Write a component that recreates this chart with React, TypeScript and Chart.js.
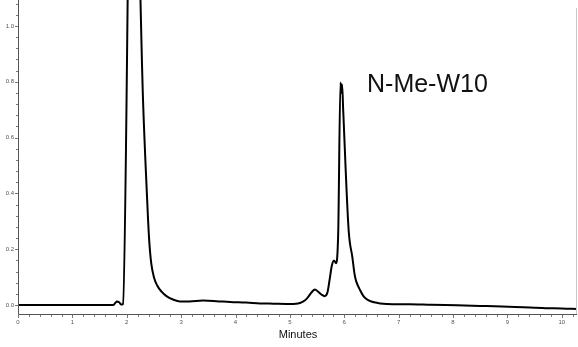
import { useEffect, useRef } from "react";
import { Chart, registerables } from "chart.js";

Chart.register(...registerables);

// Retention time (min) and detector response (AU) of the trace
const minutes = [
  0, 1.75, 1.79, 1.82, 1.86, 1.9, 1.93, 2.1, 2.3, 2.37, 2.41, 2.45, 2.5, 2.56, 2.64, 2.73, 2.85, 2.98,
  3.15, 3.4, 3.65, 3.9, 4.2, 4.45, 4.7, 4.94, 5.15, 5.24, 5.32, 5.4, 5.46, 5.52, 5.58, 5.64,
  5.69, 5.73, 5.77, 5.81, 5.85, 5.87, 5.89, 5.93, 5.95, 5.96, 5.98, 6.08, 6.15, 6.19, 6.22,
  6.29, 6.36, 6.44, 6.55, 6.66, 6.78, 7.2, 7.6, 8.07, 8.5, 8.9, 9.29, 9.7, 10.0, 10.28,
];
const absorbance = [
  0.0, 0.0, 0.008, 0.013, 0.01, 0.002, 0.004, 2.12, 0.73, 0.4, 0.24, 0.15, 0.1, 0.07, 0.048, 0.032, 0.02, 0.013,
  0.013, 0.016, 0.014, 0.011, 0.009, 0.006, 0.005, 0.004, 0.006, 0.012, 0.025, 0.046, 0.056, 0.048, 0.038, 0.032,
  0.045, 0.09, 0.14, 0.16, 0.15, 0.17, 0.27, 0.797, 0.76, 0.79, 0.7, 0.27, 0.17, 0.11, 0.085,
  0.054, 0.03, 0.018, 0.01, 0.006, 0.004, 0.003, 0.001, -0.001, -0.003, -0.005, -0.008, -0.011, -0.012, -0.014,
];

const xTickValues = [0, 1, 2, 3, 4, 5, 6, 7, 8, 9, 10];
const yTickValues = [0, 0.2, 0.4, 0.6, 0.8, 1.0];
const xMinorStep = 0.2;
const yMinorStep = 0.04;
const axisTitle = "Minutes";
const peakLabel = "N-Me-W10";

const axesPlugin = {
  id: "chromAxes",
  afterDraw(chart: any) {
    const { ctx, chartArea: a, scales } = chart;
    const x = scales.x;
    const y = scales.y;
    ctx.save();

    // frame: left axis, bottom axis, light right border
    ctx.lineWidth = 1;
    ctx.strokeStyle = "#c8c8c8";
    ctx.beginPath();
    ctx.moveTo(a.right - 0.5, a.top + 8);
    ctx.lineTo(a.right - 0.5, a.bottom);
    ctx.stroke();

    ctx.strokeStyle = "#555";
    ctx.beginPath();
    ctx.moveTo(a.left + 0.5, a.top);
    ctx.lineTo(a.left + 0.5, a.bottom + 0.5);
    ctx.lineTo(a.right, a.bottom + 0.5);
    ctx.stroke();

    // y ticks
    ctx.strokeStyle = "#777";
    for (let v = 0; v <= 1.08 + 1e-9; v += yMinorStep) {
      const py = Math.round(y.getPixelForValue(v)) + 0.5;
      const major = yTickValues.some((t) => Math.abs(t - v) < 1e-6);
      ctx.beginPath();
      ctx.moveTo(a.left - (major ? 3 : 2), py);
      ctx.lineTo(a.left, py);
      ctx.stroke();
    }
    // x ticks
    for (let v = 0; v <= x.max + 1e-9; v += xMinorStep) {
      const px = Math.round(x.getPixelForValue(v)) + 0.5;
      const major = xTickValues.some((t) => Math.abs(t - v) < 1e-6);
      ctx.beginPath();
      ctx.moveTo(px, a.bottom + 1);
      ctx.lineTo(px, a.bottom + (major ? 4 : 3));
      ctx.stroke();
    }

    // tick labels
    ctx.fillStyle = "#555";
    ctx.font = "6px Arial, 'Liberation Sans', sans-serif";
    ctx.textAlign = "right";
    ctx.textBaseline = "middle";
    yTickValues.forEach((v) => {
      ctx.fillText(v.toFixed(1), a.left - 4, y.getPixelForValue(v));
    });
    ctx.textAlign = "center";
    xTickValues.forEach((v) => {
      ctx.fillText(String(v), x.getPixelForValue(v), a.bottom + 8);
    });

    // axis title
    ctx.fillStyle = "#111";
    ctx.font = "11px Arial, 'Liberation Sans', sans-serif";
    ctx.textBaseline = "alphabetic";
    ctx.fillText(axisTitle, 298, a.bottom + 24);

    // compound label
    ctx.font = "25px Arial, 'Liberation Sans', sans-serif";
    ctx.textAlign = "left";
    ctx.fillText(peakLabel, 367, 92);

    ctx.restore();
  },
};

export default function App() {
  const canvasRef = useRef<HTMLCanvasElement | null>(null);

  useEffect(() => {
    const canvas = canvasRef.current;
    if (!canvas) return;
    const chart = new Chart(canvas, {
      type: "line",
      data: {
        datasets: [
          {
            data: minutes.map((t, i) => ({ x: t, y: absorbance[i] })),
            borderColor: "#000",
            borderWidth: 2,
            pointRadius: 0,
            cubicInterpolationMode: "monotone",
            fill: false,
          },
        ],
      },
      options: {
        animation: false,
        responsive: false,
        devicePixelRatio: 1,
        layout: { padding: { left: 18, right: 1, top: 0, bottom: 33 } },
        plugins: { legend: { display: false }, tooltip: { enabled: false } },
        scales: {
          x: { type: "linear", min: 0, max: 10.28, display: false },
          y: { type: "linear", min: -0.032, max: 1.093, display: false },
        },
      },
      plugins: [axesPlugin],
    });
    return () => chart.destroy();
  }, []);

  return (
    <div style={{ position: "fixed", left: 0, top: 0, width: 578, height: 347, background: "#fff" }}>
      <canvas ref={canvasRef} width={578} height={347} style={{ display: "block" }} />
    </div>
  );
}
